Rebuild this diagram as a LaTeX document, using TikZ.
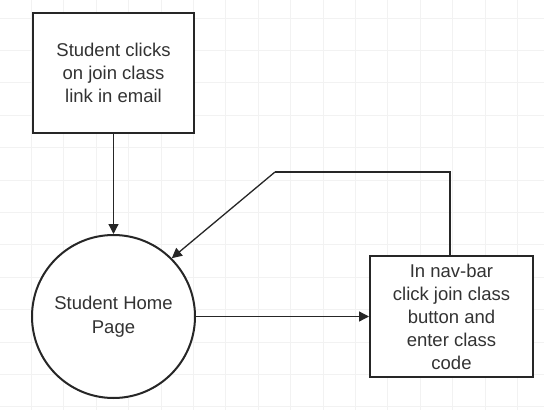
\documentclass[tikz,border=0pt]{standalone}
\usepackage{fontspec}
\setmainfont{Liberation Sans}
\usetikzlibrary{arrows.meta}

\tikzset{
  gridline/.style={draw=black!5, line width=0.8pt},
  stepbox/.style={draw=black!85, line width=2pt, fill=white, rectangle,
    inner sep=0pt, align=center, text=black!80,
    font=\fontsize{18.5}{23}\selectfont},
  statecircle/.style={draw=black!85, line width=2pt, fill=white, circle,
    inner sep=0pt, minimum size=163pt, align=center, text=black!80,
    font=\fontsize{18.5}{24}\selectfont},
  flow/.style={draw=black!85, line width=1.3pt,
    -{Triangle[length=10pt,width=10pt]}},
  flowthick/.style={draw=black!85, line width=2pt}
}

\begin{document}
\begin{tikzpicture}[x=1pt, y=-1pt]
  % canvas and background grid
  \fill[white] (0,0) rectangle (544,410);
  \useasboundingbox (0,0) rectangle (544,410);
  \foreach \i in {0,...,17} {
    \draw[gridline] ({-1+32.4*\i},0) -- ({-1+32.4*\i},410);
  }
  \foreach \j in {0,...,12} {
    \draw[gridline] (0,{18+32.4*\j}) -- (544,{18+32.4*\j});
  }

  % steps
  \node[stepbox, minimum width=161pt, minimum height=120pt] (email)
    at (113.5,72.5) {Student clicks\\on join class\\link in email};
  \node[statecircle] (home) at (113.5,316.5) {Student Home\\Page};
  \node[stepbox, minimum width=163pt, minimum height=121pt] (join)
    at (451.5,316.5) {In nav-bar\\click join class\\button and\\enter class\\code};

  % return path corner
  \coordinate (back) at (275,172);

  % connectors
  \draw[flow] (email.south) -- (home.north);
  \draw[flow] (home.east) -- (join.west);
  \draw[flowthick] ([xshift=-1.5pt]join.north) |- (back);
  \draw[flow] (back) -- (home.45);
\end{tikzpicture}
\end{document}
